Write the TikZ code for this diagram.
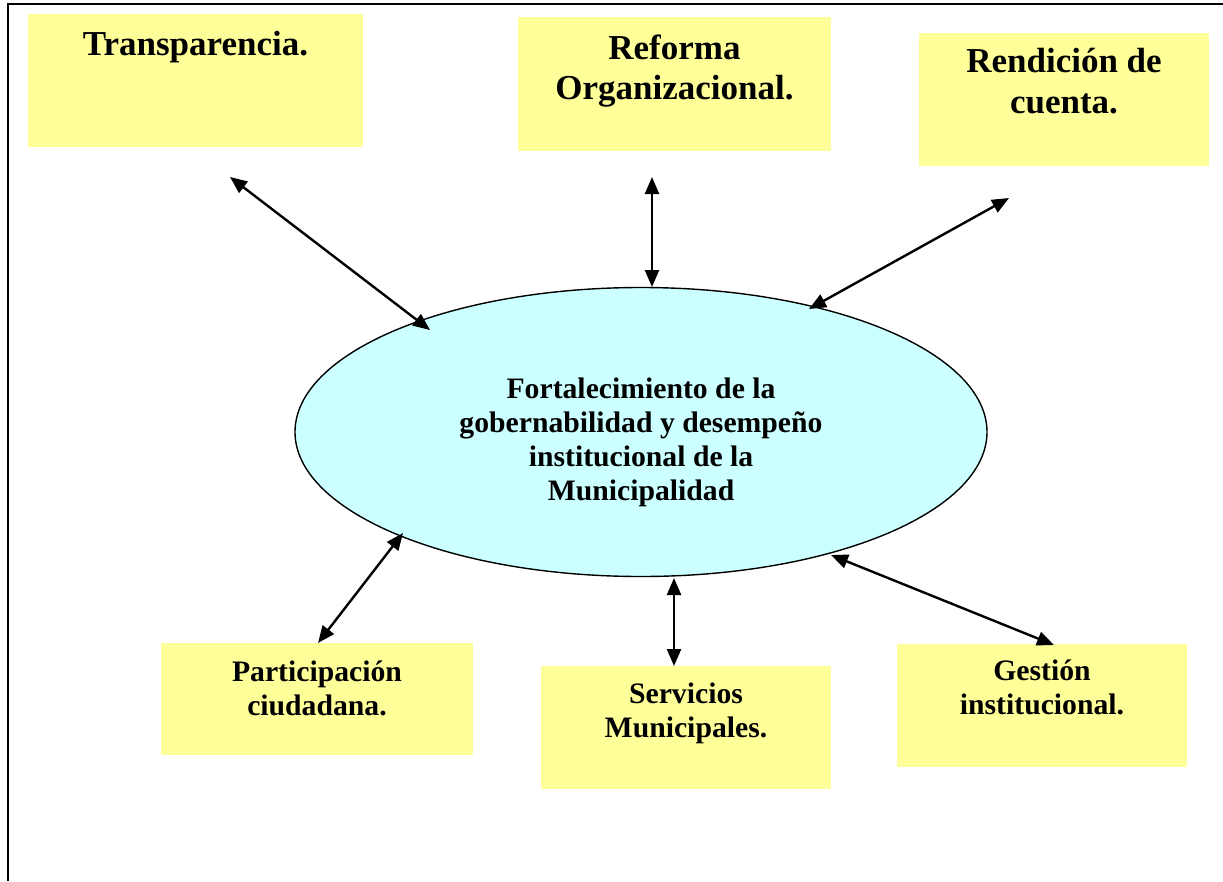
\documentclass[tikz,border=0pt]{standalone}
\usepackage{fontspec}
\setmainfont{Liberation Serif}
\usetikzlibrary{arrows.meta,shapes.geometric}
\definecolor{boxyellow}{HTML}{FFFF99}
\definecolor{ellcyan}{HTML}{CCFFFF}
\tikzset{
  box/.style={draw=none, fill=boxyellow, rectangle, inner sep=0pt},
  bigtext/.style={font=\fontsize{35}{40.5}\selectfont\bfseries, align=center, inner sep=0pt, anchor=base},
  midtext/.style={font=\fontsize{29.7}{34}\selectfont\bfseries, align=center, inner sep=0pt, anchor=base},
  dblarrow/.style={line width=2.4pt, {Triangle[length=17pt,width=14pt]}-{Triangle[length=17pt,width=14pt]}},
  frameline/.style={line width=1.8pt, black}
}
\begin{document}
\begin{tikzpicture}[x=1pt,y=-1pt]
\useasboundingbox (0,0) rectangle (1223,881);
\fill[white] (0,0) rectangle (1223,881);
% frame
\draw[frameline] (8.3,881) -- (8.3,3.7) -- (1223,3.7);

% boxes
\node[box, minimum width=335pt, minimum height=133pt] (transp) at (195.5,80.5) {};
\node[box, minimum width=313pt, minimum height=134pt] (reforma) at (674.5,84) {};
\node[box, minimum width=290pt, minimum height=133pt] (rendicion) at (1064,99.5) {};
\node[box, minimum width=312pt, minimum height=112pt] (particip) at (317,699) {};
\node[box, minimum width=290pt, minimum height=123pt] (servicios) at (686,727.5) {};
\node[box, minimum width=290pt, minimum height=123pt] (gestion) at (1042,705.5) {};

% texts (base anchor = baseline of the last line)
\node[bigtext] (transpT) at (195.5,55) {Transparencia.};
\node[bigtext] (reformaT) at (674.5,99.5) {Reforma\\Organizacional.};
\node[bigtext] (rendicionT) at (1064,113) {Rendición de\\cuenta.};
\node[midtext] (participT) at (317,715) {Participación\\ciudadana.};
\node[midtext] (serviciosT) at (686,737) {Servicios\\Municipales.};
\node[midtext] (gestionT) at (1042,714) {Gestión\\institucional.};

% ellipse
\node[ellipse, draw=black, line width=1.4pt, fill=ellcyan, minimum width=692pt, minimum height=289pt, inner sep=0pt] (ell) at (641,432) {};
\node[midtext] (ellT) at (641,500) {Fortalecimiento de la\\gobernabilidad y desempeño\\institucional de la\\Municipalidad};

% arrow end points
\coordinate (tA) at (230,177);
\coordinate (eA) at (430,330);
\coordinate (tB) at (652,177);
\coordinate (eB) at (652,287);
\coordinate (tC) at (1009,198);
\coordinate (eC) at (809,309);
\coordinate (eD) at (403,533);
\coordinate (bD) at (318,643);
\coordinate (eE) at (674,578);
\coordinate (bE) at (674,666);
\coordinate (eF) at (831,555);
\coordinate (bF) at (1054,645);

\draw[dblarrow] (tA) -- (eA);
\draw[dblarrow] (tB) -- (eB);
\draw[dblarrow] (tC) -- (eC);
\draw[dblarrow] (eD) -- (bD);
\draw[dblarrow] (eE) -- (bE);
\draw[dblarrow] (eF) -- (bF);
\end{tikzpicture}
\end{document}
